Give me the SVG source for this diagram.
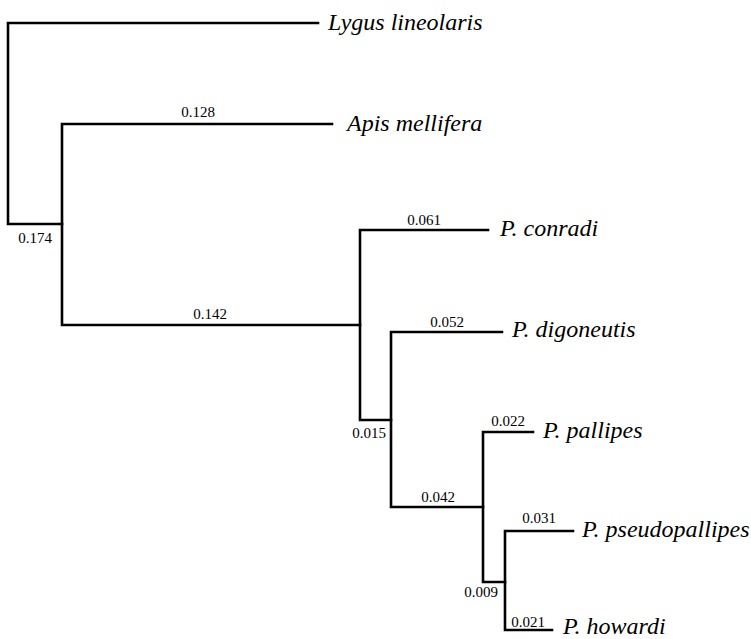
<svg xmlns="http://www.w3.org/2000/svg" width="751" height="639" viewBox="0 0 751 639">
<style>
.b{fill:none;stroke:#000;stroke-width:2.6;stroke-linecap:square;stroke-linejoin:miter}
text{font-family:'Liberation Serif','DejaVu Serif',serif;fill:#000}
.l{font-size:15px;text-anchor:middle}
.s{font-size:24px;font-style:italic}
</style>
<rect width="751" height="639" fill="#fff"/>
<g id="connectors">
<path class="b" d="M318,23 H8 V224 H62"/>
<path class="b" d="M332,124 H62 V325 H360"/>
<path class="b" d="M488,230 H360 V420 H391"/>
<path class="b" d="M502,332 H391 V507 H483"/>
<path class="b" d="M533,432 H483 V582 H505"/>
<path class="b" d="M573,531 H505 V630 H552"/>
</g>
<g id="branch-labels">
<text class="l" x="198" y="117">0.128</text>
<text class="l" x="35" y="243">0.174</text>
<text class="l" x="210" y="319">0.142</text>
<text class="l" x="424" y="225">0.061</text>
<text class="l" x="447" y="327">0.052</text>
<text class="l" x="369" y="438">0.015</text>
<text class="l" x="508" y="426">0.022</text>
<text class="l" x="438" y="502">0.042</text>
<text class="l" x="539" y="523">0.031</text>
<text class="l" x="481" y="597">0.009</text>
<text class="l" x="528" y="627">0.021</text>
</g>
<g id="lygus"><text class="s" x="328" y="30">Lygus lineolaris</text></g>
<g id="apis"><text class="s" x="347" y="131">Apis mellifera</text></g>
<g id="conradi"><text class="s" x="500" y="236">P. conradi</text></g>
<g id="digoneutis"><text class="s" x="512" y="337">P. digoneutis</text></g>
<g id="pallipes"><text class="s" x="543" y="438">P. pallipes</text></g>
<g id="pseudopallipes"><text class="s" x="582" y="537">P. pseudopallipes</text></g>
<g id="howardi"><text class="s" x="563" y="634">P. howardi</text></g>
</svg>
